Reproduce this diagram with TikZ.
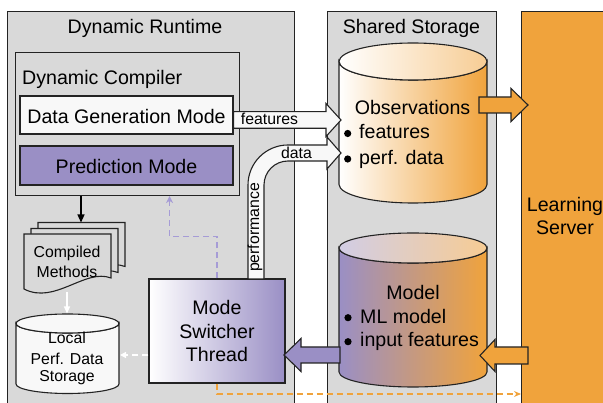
\documentclass[tikz,border=0pt]{standalone}
\usepackage{fontspec}
\setmainfont{Liberation Sans}
\usetikzlibrary{calc,arrows.meta}

\definecolor{panelgray}{RGB}{217,217,217}
\definecolor{modepurple}{RGB}{154,143,197}
\definecolor{serverorange}{RGB}{240,163,60}
\definecolor{dashlav}{RGB}{166,156,214}
\definecolor{edge}{RGB}{35,35,35}
\definecolor{paper}{RGB}{248,248,248}

\tikzset{
  panel/.style={draw=edge, line width=1pt, fill=panelgray, inner sep=0pt, anchor=north west},
  box/.style={draw=edge, line width=1.1pt, inner sep=0pt},
  big/.style={font=\fontsize{19.6}{23.5}\selectfont, inner sep=0pt},
  small/.style={font=\fontsize{15.8}{19}\selectfont, inner sep=0pt},
  block/.style={draw=edge, line width=1.1pt, line join=miter},
  dashlink/.style={line width=1.2pt, dash pattern=on 6pt off 4pt},
  cylline/.style={draw=edge, line width=1.1pt},
}

% horizontal block arrow: style, tail point, tip point, half band, half head, head length
\newcommand\blockarrow[6]{%
  \coordinate (ba-s) at (#2);
  \coordinate (ba-t) at (#3);
  \coordinate (ba-b) at ($(ba-t)!#6!(ba-s)$);
  \draw[block,#1] ($(ba-s)!#4!90:(ba-t)$) -- ($(ba-b)!#4!90:(ba-t)$)
    -- ($(ba-b)!#5!90:(ba-t)$) -- (ba-t) -- ($(ba-b)!#5!-90:(ba-t)$)
    -- ($(ba-b)!#4!-90:(ba-t)$) -- ($(ba-s)!#4!-90:(ba-t)$) -- cycle;
}

% cylinder: centre x, top ellipse y, bottom ellipse y, x radius, y radius, body style, lid style
\newcommand\cylshape[7]{%
  \pgfmathsetmacro\cyL{#1-#4}%
  \pgfmathsetmacro\cyR{#1+#4}%
  \pgfmathsetmacro\cyKa{0.5523*#4}%
  \pgfmathsetmacro\cyKb{0.5523*#5}%
  \path[#6] (\cyL,#2) -- (\cyL,#3)
    .. controls (\cyL,{#3+\cyKb}) and ({#1-\cyKa},{#3+#5}) .. (#1,{#3+#5})
    .. controls ({#1+\cyKa},{#3+#5}) and (\cyR,{#3+\cyKb}) .. (\cyR,#3)
    -- (\cyR,#2)
    .. controls (\cyR,{#2+\cyKb}) and ({#1+\cyKa},{#2+#5}) .. (#1,{#2+#5})
    .. controls ({#1-\cyKa},{#2+#5}) and (\cyL,{#2+\cyKb}) .. (\cyL,#2) -- cycle;
  \path[#7] (#1,#2) ellipse [x radius=#4pt, y radius=#5pt];
}

% one sheet of the stacked documents
\newcommand\docsheet[2]{%
  \draw[box, fill=panelgray, shift={(#1,#2)}] (24,234) -- (111,234) -- (111,278)
    .. controls (85,268) and (55,305) .. (24,289) -- cycle;
}

\begin{document}
\begin{tikzpicture}[x=1pt,y=-1pt]
\useasboundingbox (0,0) rectangle (603,403);
\clip (0,0) rectangle (603,403);

% panels
\node[panel, minimum width=287pt, minimum height=420pt] (runtime) at (7,11) {};
\node[panel, minimum width=169pt, minimum height=420pt] (storage) at (327,11) {};
\node[panel, fill=serverorange, minimum width=100pt, minimum height=420pt] (server) at (521,11) {};
\node[big, anchor=base] (runtime-title) at (145,34) {Dynamic Runtime};
\node[big, anchor=base] (storage-title) at (411.5,34) {Shared Storage};
\node[big, anchor=base] (server-l1) at (565,211.7) {Learning};
\node[big, anchor=base] (server-l2) at (565,235) {Server};

% dynamic compiler
\node[box, fill=panelgray, anchor=north west, minimum width=224pt, minimum height=143pt] (compiler) at (15,52) {};
\node[big, anchor=base west] (compiler-title) at (22,84.5) {Dynamic Compiler};
\node[box, fill=paper, minimum width=213pt, minimum height=38pt] (dgm) at (126.5,115) {};
\node[big, anchor=base] (dgm-label) at (126.5,123.3) {Data Generation Mode};
\node[box, fill=modepurple, minimum width=213pt, minimum height=39pt] (pred) at (126.5,165.5) {};
\node[big, anchor=base] (pred-label) at (126.5,173.3) {Prediction Mode};

% compiled methods
\docsheet{14}{-11.5}
\docsheet{7}{-5.5}
\docsheet{0}{0}
\node[small, anchor=base] (methods-l1) at (67,258) {Compiled};
\node[small, anchor=base] (methods-l2) at (67,277.3) {Methods};
\coordinate (methods-top) at (81,222.5);
\coordinate (methods-bottom) at (67,292);

% local performance data storage
\cylshape{67.5}{323.5}{384}{51.5}{9.5}{cylline, fill=paper}{cylline, fill=paper}
\node[small, anchor=base] (local-l1) at (67,343.3) {Local};
\node[small, anchor=base] (local-l2) at (67,364.3) {Perf. Data};
\node[small, anchor=base] (local-l3) at (67,382) {Storage};
\coordinate (local-top) at (67,313.5);
\coordinate (local-east) at (120,355);

% observations
\cylshape{413}{61.5}{184.5}{74}{18.5}{cylline, left color=white, right color=serverorange}{cylline, left color=white, right color=serverorange!55!white}
\node[big, anchor=base] (obs-title) at (412.5,115) {Observations};
\fill (347.7,133.5) circle (3.6);
\node[big, anchor=base west] (obs-l1) at (359,139) {features};
\fill (347.7,159) circle (3.6);
\node[big, anchor=base west] (obs-l2) at (359,164.5) {perf. data};

% model
\cylshape{413}{248}{372}{74}{15}{cylline, left color=modepurple, right color=serverorange}{cylline, left color=modepurple!45!white, right color=serverorange!55!white}
\node[big, anchor=base] (model-title) at (413,300) {Model};
\fill (348,317.7) circle (3.6);
\node[big, anchor=base west] (model-l1) at (360,323.3) {ML model};
\fill (348,341.7) circle (3.6);
\node[big, anchor=base west] (model-l2) at (360,346.7) {input features};

% mode switcher thread
\node[box, left color=white, right color=modepurple, minimum width=136pt, minimum height=104pt] (switcher) at (217,331) {};
\node[big, anchor=base] (switcher-l1) at (217,315) {Mode};
\node[big, anchor=base] (switcher-l2) at (217,338.3) {Switcher};
\node[big, anchor=base] (switcher-l3) at (217,361.7) {Thread};

% block arrows
\blockarrow{fill=paper}{$(dgm.east)+(0,5)$}{341,120}{8.3pt}{16.5pt}{15pt}
\node[small, anchor=base] (features-label) at (269.5,124.3) {features};

\draw[block, fill=paper] (248,279) -- (248,185)
  .. controls (248,162.9) and (265.9,145) .. (288,145) -- (327,145) -- (327,137)
  -- (341,153) -- (327,169) -- (327,161) -- (288,161)
  .. controls (274.75,161) and (264,171.75) .. (264,185) -- (264,279) -- cycle;
\node[small, anchor=base] (data-label) at (296.5,158.3) {data};
\node[small, anchor=base, rotate=90] (perf-label) at (259,227.5) {performance};

\blockarrow{fill=serverorange}{479,105}{528,105}{8pt}{16.5pt}{17pt}
\blockarrow{fill=serverorange}{528,355.5}{480,355.5}{8.5pt}{16pt}{15pt}
\blockarrow{fill=modepurple}{340,355}{284,355}{8pt}{16.5pt}{17pt}

% thin connectors
\draw[line width=1.2pt, -{Triangle[length=8pt,width=7pt]}] (compiler.south -| methods-top) -- (methods-top);
\draw[white, line width=1.2pt, -{Triangle[length=7pt,width=6pt]}] (methods-bottom) -- (local-top);
\draw[white, dashlink, -{Triangle[length=6pt,width=6pt]}] ($(switcher.west)+(0,24)$) -- (local-east);
\draw[dashlav, dashlink, -{Stealth[length=7pt,width=7pt]}] (switcher.north) -- ++(0,-42) -| ($(compiler.south)+(42,0)$);
\coordinate (lowlane) at (0,394);
\draw[serverorange, dashlink, -{Stealth[length=7pt,width=6pt]}] (switcher.south) |- (server.west |- lowlane);
\end{tikzpicture}
\end{document}
